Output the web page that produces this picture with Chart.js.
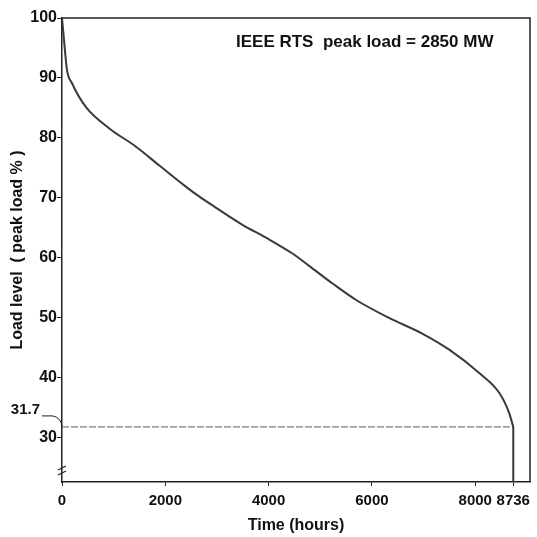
<!DOCTYPE html>
<html>
<head>
<meta charset="utf-8">
<script src="https://cdn.jsdelivr.net/npm/chart.js@4.4.0/dist/chart.umd.min.js"></script>
<style>
html, body { margin: 0; padding: 0; background: #fff; }
</style>
</head>
<body>
<canvas id="ldc" width="537" height="537"></canvas>
<script>
// load duration curve
const hours = [0, 39, 97, 194, 465, 910, 1433, 1879, 2402, 2654, 2983, 3486, 3951, 4455, 4784, 5230, 5694, 6333, 6973, 7496, 8077, 8464, 8658, 8736];
const loadLevel = [100, 96.3, 91.3, 89.1, 85.1, 81.6, 78.5, 75.4, 71.8, 70.2, 68.3, 65.5, 63.3, 60.7, 58.6, 55.7, 52.9, 49.9, 47.3, 44.6, 40.7, 37.4, 34.0, 31.7];
const endHour = 8736;
const minLoad = 31.7;
const axisBottom = 22.5;
const xTickValues = [0, 2000, 4000, 6000, 8000, 8736];
const yTickValues = [30, 40, 50, 60, 70, 80, 90, 100];
const noteText = 'IEEE RTS  peak load = 2850 MW';

const FONT = "'Liberation Sans', Arial, sans-serif";
const INK = '#222';

const curve = hours.map((h, i) => ({ x: h, y: loadLevel[i] }));

const extras = {
    id: 'extras',
    afterDraw(chart) {
        const ctx = chart.ctx;
        const a = chart.chartArea;
        const ys = chart.scales.y;
        ctx.save();
        // top and right frame
        ctx.strokeStyle = INK;
        ctx.lineWidth = 1.5;
        ctx.beginPath();
        ctx.moveTo(a.left, a.top);
        ctx.lineTo(a.right, a.top);
        ctx.lineTo(a.right, a.bottom);
        ctx.stroke();

        // note in the upper right
        ctx.fillStyle = '#111';
        ctx.font = 'bold 17px ' + FONT;
        ctx.textAlign = 'left';
        ctx.textBaseline = 'middle';
        ctx.fillText(noteText, 236, 42);

        // 31.7 label with leader
        const yMin = ys.getPixelForValue(minLoad);
        ctx.font = 'bold 15px ' + FONT;
        ctx.textAlign = 'right';
        ctx.fillText(String(minLoad), 40, yMin - 17);
        ctx.lineWidth = 1;
        ctx.beginPath();
        ctx.moveTo(42, yMin - 11);
        ctx.lineTo(53, yMin - 11);
        ctx.quadraticCurveTo(a.left - 1, yMin - 9, a.left, yMin - 1);
        ctx.stroke();

        // axis break marks
        const yb = a.bottom - 14;
        ctx.lineWidth = 1.2;
        for (let k = 0; k < 2; k++) {
            const yy = yb + k * 5;
            ctx.beginPath();
            ctx.moveTo(a.left - 4, yy + 2);
            ctx.lineTo(a.left + 4, yy - 2);
            ctx.stroke();
        }
        ctx.restore();
    }
};

new Chart(document.getElementById('ldc'), {
    type: 'scatter',
    data: {
        datasets: [
            {
                data: curve,
                showLine: true,
                borderColor: '#3a3a3a',
                borderWidth: 2,
                pointRadius: 0,
                cubicInterpolationMode: 'monotone'
            },
            {
                data: [{ x: endHour, y: minLoad }, { x: endHour, y: axisBottom }],
                showLine: true,
                borderColor: '#3a3a3a',
                borderWidth: 2,
                pointRadius: 0
            },
            {
                data: [{ x: 0, y: minLoad }, { x: endHour, y: minLoad }],
                showLine: true,
                borderColor: '#5a5a66',
                borderWidth: 1,
                borderDash: [7, 2],
                pointRadius: 0
            }
        ]
    },
    options: {
        responsive: false,
        animation: false,
        layout: { padding: { left: 0, right: 7, top: 18, bottom: 0 } },
        plugins: {
            legend: { display: false },
            tooltip: { enabled: false }
        },
        scales: {
            x: {
                type: 'linear',
                min: 0,
                max: 9060,
                afterBuildTicks: s => { s.ticks = xTickValues.map(v => ({ value: v })); },
                afterFit: s => { s.height = 55; },
                grid: { drawOnChartArea: false, tickLength: 4, color: INK },
                border: { color: INK, width: 1.5 },
                ticks: {
                    autoSkip: false,
                    maxRotation: 0,
                    color: '#111',
                    padding: 6,
                    callback: v => String(v),
                    font: { family: FONT, size: 15, weight: 'bold' }
                },
                title: {
                    display: true,
                    text: 'Time (hours)',
                    color: '#111',
                    padding: { top: 0, bottom: 2 },
                    font: { family: FONT, size: 16, weight: 'bold' }
                }
            },
            y: {
                type: 'linear',
                min: axisBottom,
                max: 100,
                afterBuildTicks: s => { s.ticks = yTickValues.map(v => ({ value: v })); },
                afterFit: s => { s.width = 62; },
                grid: { drawOnChartArea: false, tickLength: 5, color: INK },
                border: { color: INK, width: 1.5 },
                ticks: {
                    color: '#111',
                    padding: 0,
                    callback: v => String(v),
                    font: { family: FONT, size: 16, weight: 'bold' }
                },
                title: {
                    display: true,
                    text: 'Load level  ( peak load % )',
                    color: '#111',
                    padding: { top: 8, bottom: 0 },
                    font: { family: FONT, size: 16, weight: 'bold' }
                }
            }
        }
    },
    plugins: [extras]
});
</script>
</body>
</html>
